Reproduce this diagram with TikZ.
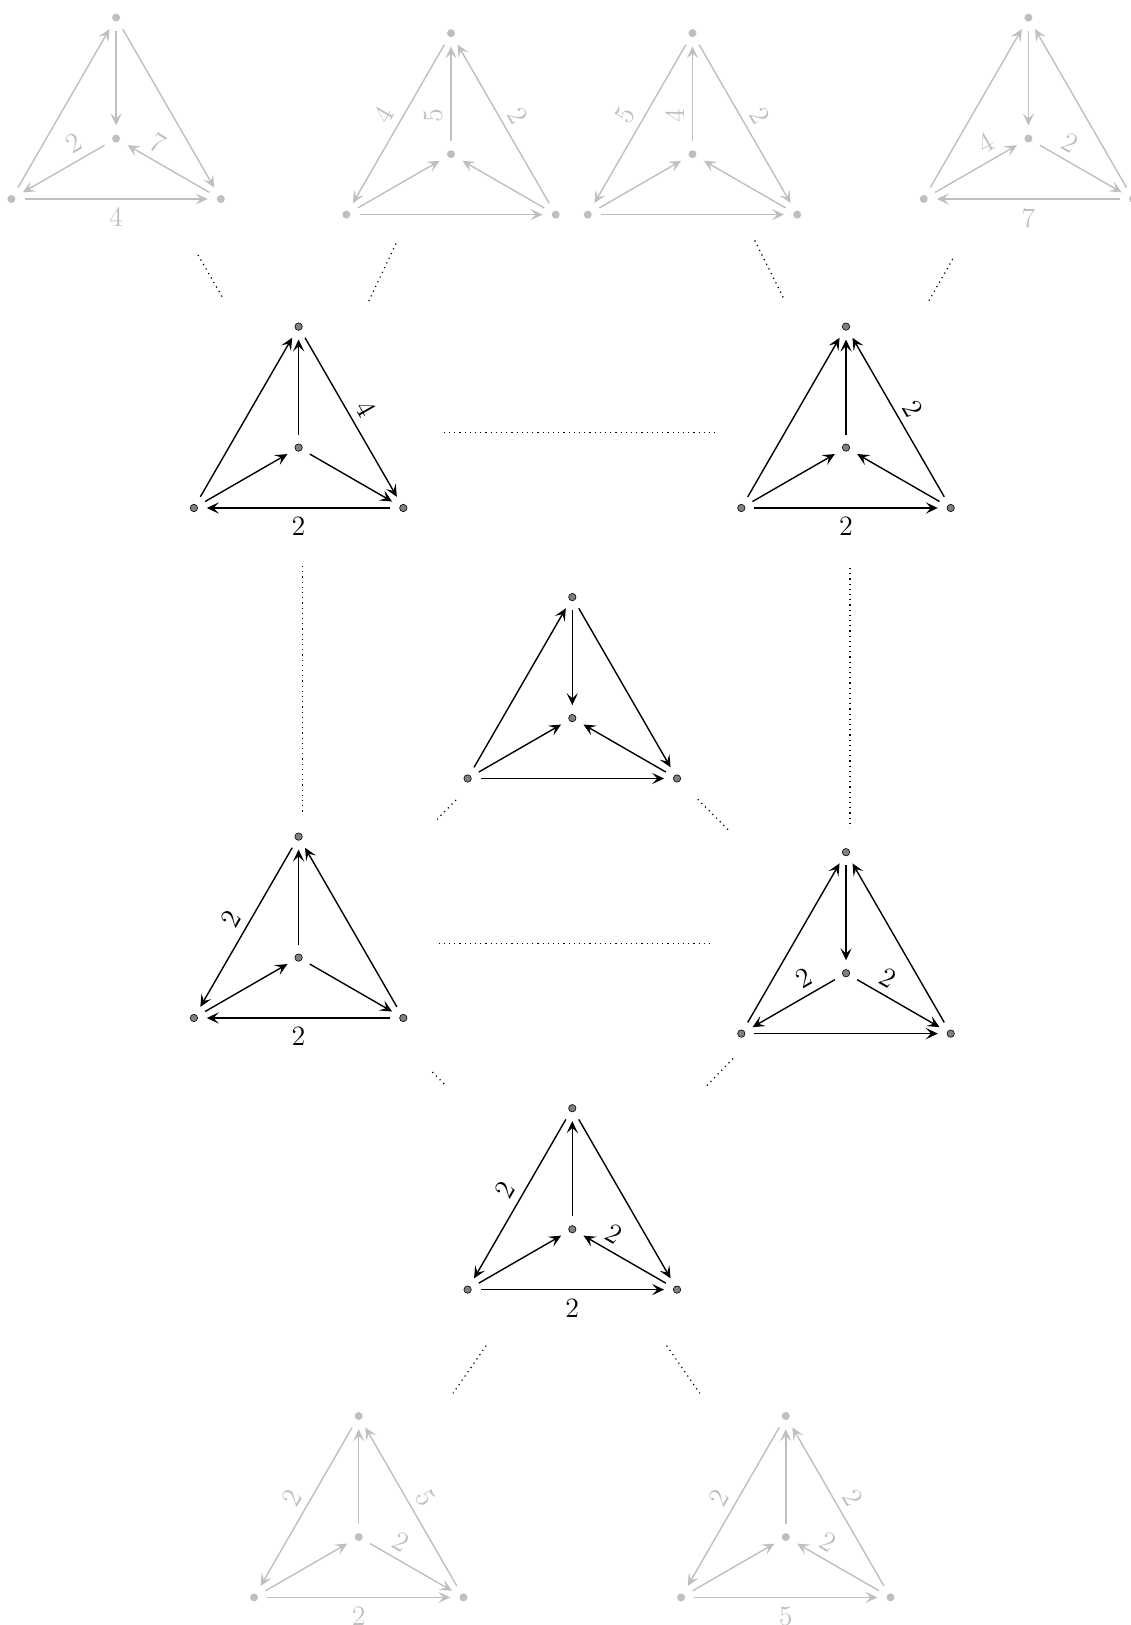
\documentclass[tikz,border=0pt]{standalone}
\usepackage{tikz}
\usetikzlibrary{arrows.meta}

% one graph: name, apex x, apex y, dot style
\newcommand{\tetra}[4]{
  \node[#4] (#1-t) at (#2,#3) {};
  \node[#4] (#1-c) at (#2,#3+121) {};
  \node[#4] (#1-l) at (#2-104.7,#3+181.4) {};
  \node[#4] (#1-r) at (#2+104.7,#3+181.4) {};
}

\begin{document}
\begin{tikzpicture}[
  x=0.5pt, y=-0.5pt,
  >={Stealth[length=6pt, width=5.6pt, inset=2.6pt]},
  dot/.style={circle, draw=black, fill=black!50, line width=.3pt, minimum size=3.7pt, inner sep=0pt, outer sep=4.6pt},
  ghostdot/.style={circle, fill=black!25, minimum size=4pt, inner sep=0pt, outer sep=4.6pt},
  arc/.style={->, line width=.7pt},
  ghost/.style={arc, color=black!25},
  lab/.style={sloped, above, midway, inner sep=3.6pt, font=\fontsize{14}{16}\selectfont},
  inlab/.style={lab, pos=.27},
  outlab/.style={lab, pos=.73},
  baselab/.style={lab, below=4.2pt, inner sep=0pt},
  dots/.style={line width=.6pt, dotted},
]
  \useasboundingbox (0,0) rectangle (1130,1625);

  % Outer graphs
  \tetra{ga}{116.1}{17.6}{ghostdot}
  \tetra{gb}{451}{33.2}{ghostdot}
  \tetra{gc}{692.5}{33.2}{ghostdot}
  \tetra{gd}{1028.4}{17.6}{ghostdot}
  \tetra{ge}{358.7}{1416}{ghostdot}
  \tetra{gf}{785.8}{1416}{ghostdot}

  % Inner graphs
  \tetra{ma}{298.6}{326.6}{dot}
  \tetra{mb}{846}{326.6}{dot}
  \tetra{mc}{572.3}{597.1}{dot}
  \tetra{md}{298.6}{836.6}{dot}
  \tetra{me}{846}{852.2}{dot}
  \tetra{mf}{572.3}{1108.2}{dot}

  % Top row
  \draw[ghost] (ga-l) edge (ga-t) (ga-t) edge (ga-c) (ga-t) edge (ga-r)
    (ga-c) edge node[inlab] {2} (ga-l) (ga-r) edge node[outlab] {7} (ga-c)
    (ga-l) edge node[baselab] {4} (ga-r);
  \draw[ghost] (gb-t) edge node[lab] {4} (gb-l) (gb-l) edge (gb-c)
    (gb-c) edge node[inlab] {5} (gb-t) (gb-r) edge (gb-c)
    (gb-r) edge node[lab] {2} (gb-t) (gb-l) edge (gb-r);
  \draw[ghost] (gc-t) edge node[lab] {5} (gc-l) (gc-l) edge (gc-c)
    (gc-c) edge node[inlab] {4} (gc-t) (gc-r) edge (gc-c)
    (gc-t) edge node[lab] {2} (gc-r) (gc-l) edge (gc-r);
  \draw[ghost] (gd-l) edge (gd-t) (gd-t) edge (gd-c) (gd-r) edge (gd-t)
    (gd-l) edge node[outlab] {4} (gd-c) (gd-c) edge node[inlab] {2} (gd-r)
    (gd-r) edge node[baselab] {7} (gd-l);

  % Middle graphs
  \draw[arc] (ma-l) edge (ma-t) (ma-c) edge (ma-t) (ma-t) edge node[lab] {4} (ma-r)
    (ma-l) edge (ma-c) (ma-c) edge (ma-r) (ma-r) edge node[baselab] {2} (ma-l);
  \draw[arc] (mb-l) edge (mb-t) (mb-c) edge (mb-t) (mb-r) edge node[lab] {2} (mb-t)
    (mb-l) edge (mb-c) (mb-r) edge (mb-c) (mb-l) edge node[baselab] {2} (mb-r);
  \draw[arc] (mc-l) edge (mc-t) (mc-t) edge (mc-c) (mc-t) edge (mc-r)
    (mc-l) edge (mc-c) (mc-r) edge (mc-c) (mc-l) edge (mc-r);
  \draw[arc] (md-t) edge node[lab] {2} (md-l) (md-c) edge (md-t) (md-r) edge (md-t)
    (md-l) edge (md-c) (md-c) edge (md-r) (md-r) edge node[baselab] {2} (md-l);
  \draw[arc] (me-l) edge (me-t) (me-t) edge (me-c) (me-r) edge (me-t)
    (me-c) edge node[inlab] {2} (me-l) (me-c) edge node[inlab] {2} (me-r)
    (me-l) edge (me-r);
  \draw[arc] (mf-t) edge node[lab] {2} (mf-l) (mf-c) edge (mf-t) (mf-t) edge (mf-r)
    (mf-l) edge (mf-c) (mf-r) edge node[outlab] {2} (mf-c)
    (mf-l) edge node[baselab] {2} (mf-r);

  % Bottom row
  \draw[ghost] (ge-t) edge node[lab] {2} (ge-l) (ge-l) edge (ge-c) (ge-c) edge (ge-t)
    (ge-r) edge node[lab] {5} (ge-t) (ge-c) edge node[inlab] {2} (ge-r)
    (ge-l) edge node[baselab] {2} (ge-r);
  \draw[ghost] (gf-t) edge node[lab] {2} (gf-l) (gf-l) edge (gf-c) (gf-c) edge (gf-t)
    (gf-r) edge node[lab] {2} (gf-t) (gf-r) edge node[outlab] {2} (gf-c)
    (gf-l) edge node[baselab] {5} (gf-r);

  % Dotted links
  \foreach \linkname/\xa/\ya/\xb/\yb in {
    la/198/255/224/300, lb/396/243.6/368/302.7,
    lc/754.7/240.5/784/299, ld/952.7/259/927.8/302.7,
    le/443.7/432.3/715.3/432.3, lf/302.7/566/302.7/812,
    lg/850/568/850/828, lh/456/800/435.4/821,
    li/697.7/799.3/729.8/831.4, lj/438.5/943.4/711.2/943.4,
    lk/432.3/1072/444.7/1084.4, ll/733/1058.5/706/1086.5,
    lm/486.2/1345.6/453/1393.3, ln/666.6/1345.6/699.8/1393.3} {
    \coordinate (\linkname-a) at (\xa,\ya);
    \coordinate (\linkname-b) at (\xb,\yb);
    \draw[dots] (\linkname-a) -- (\linkname-b);
  }
\end{tikzpicture}
\end{document}
